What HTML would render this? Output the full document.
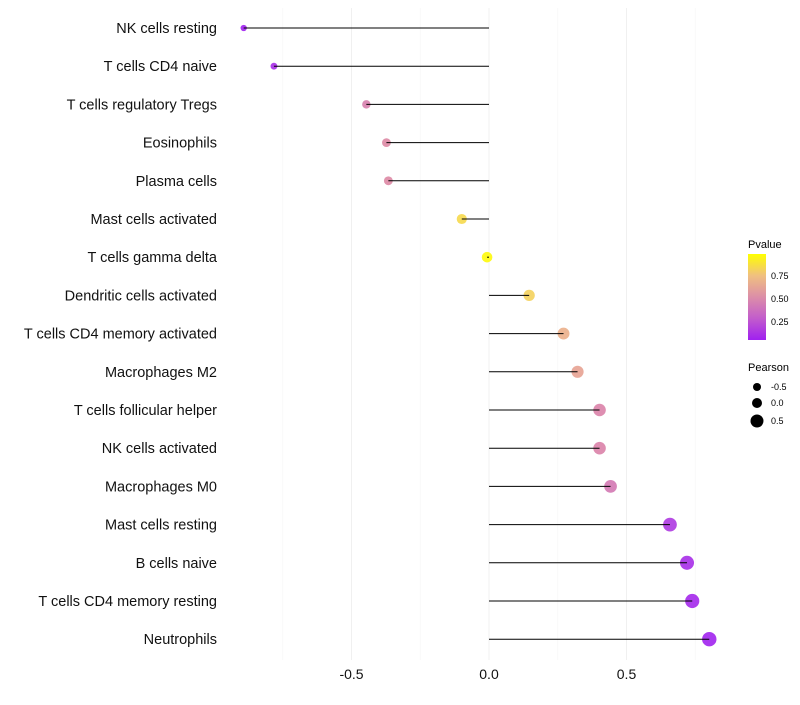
<!DOCTYPE html>
<html><head><meta charset="utf-8"><style>
body{margin:0;background:#fff;font-family:"Liberation Sans",sans-serif}
</style></head><body>
<svg id="chart" width="800" height="700" xmlns="http://www.w3.org/2000/svg" font-family="Liberation Sans, sans-serif">
<g id="grid"></g>
<g id="marks"></g>
<g id="ylabels"></g>
<g id="xlabels"></g>
<g>
<defs><linearGradient id="pg" x1="0" y1="1" x2="0" y2="0">
<stop offset="0" stop-color="#a020f0"/><stop offset="0.25" stop-color="#c25ccc"/><stop offset="0.5" stop-color="#dc8ea8"/><stop offset="0.75" stop-color="#f0c080"/><stop offset="1" stop-color="#ffff00"/></linearGradient></defs>
<text x="748" y="248" font-size="11">Pvalue</text>
<rect x="748" y="254" width="18" height="86" fill="url(#pg)"/>
<g font-size="9"><text x="771" y="279">0.75</text><text x="771" y="302">0.50</text><text x="771" y="325">0.25</text></g>
<text x="748" y="371" font-size="11">Pearson</text>
<circle cx="757" cy="387" r="4"/><circle cx="757" cy="403" r="5"/><circle cx="757" cy="421" r="6.5"/>
<g font-size="9"><text x="771" y="390">-0.5</text><text x="771" y="406">0.0</text><text x="771" y="424">0.5</text></g>
</g>
</svg>
<script>
const categories=["NK cells resting","T cells CD4 naive","T cells regulatory  Tregs ","Eosinophils","Plasma cells","Mast cells activated","T cells gamma delta","Dendritic cells activated","T cells CD4 memory activated","Macrophages M2","T cells follicular helper","NK cells activated","Macrophages M0","Mast cells resting","B cells naive","T cells CD4 memory resting","Neutrophils"];
const pearson=[-0.892,-0.782,-0.446,-0.373,-0.366,-0.099,-0.007,0.146,0.271,0.322,0.402,0.402,0.442,0.658,0.720,0.739,0.801];
const pvalue=[0.05,0.1,0.45,0.5,0.5,0.85,0.97,0.82,0.68,0.62,0.47,0.47,0.42,0.15,0.1,0.08,0.06];
const xTicks=[-0.5,0,0.5];
const xTickLabels=["-0.5","0.0","0.5"];
const NS="http://www.w3.org/2000/svg";
const x=v=>489+v*275;
const y=i=>28+i*38.2;
const rOf=v=>Math.max(1.5,5.3+2.4*v);
function lerp(a,b,t){return Math.round(a+(b-a)*t);}
const stops=[[0,[160,32,240]],[0.25,[194,92,204]],[0.5,[224,140,160]],[0.75,[240,192,128]],[1,[255,255,0]]];
function col(p){p=Math.min(1,Math.max(0,(p-0.05)/0.94));for(let k=0;k<stops.length-1;k++){const [a,ca]=stops[k],[b,cb]=stops[k+1];if(p<=b){const t=(p-a)/(b-a);return `rgb(${lerp(ca[0],cb[0],t)},${lerp(ca[1],cb[1],t)},${lerp(ca[2],cb[2],t)})`;}}return "rgb(255,255,0)";}
function mk(t,a,parent){const e=document.createElementNS(NS,t);for(const k in a)e.setAttribute(k,a[k]);parent.appendChild(e);return e;}
const grid=document.getElementById('grid'),marks=document.getElementById('marks'),yl=document.getElementById('ylabels'),xl=document.getElementById('xlabels');
[-0.75,-0.25,0.25,0.75].forEach(v=>{const g=mk('line',{x1:x(v),x2:x(v),y1:8,y2:660,stroke:'#f6f6f6','stroke-width':0.6},grid);});
xTicks.forEach((v,i)=>{const g=mk('line',{x1:x(v),x2:x(v),y1:8,y2:660,stroke:'#f0f0f0','stroke-width':1},grid);
const t=mk('text',{x:x(v),y:679,'font-size':14,'text-anchor':'middle',fill:'#111'},xl);t.textContent=xTickLabels[i];});
categories.forEach((c,i)=>{
const d=mk('circle',{cx:x(pearson[i]),cy:y(i),r:rOf(pearson[i]),fill:col(pvalue[i]),'fill-opacity':0.9},marks);


const l=mk('line',{x1:x(0),x2:x(pearson[i]),y1:y(i),y2:y(i),stroke:'#000','stroke-width':1},marks);


const t=mk('text',{x:217,y:y(i)+5,'font-size':14.5,'text-anchor':'end',fill:'#111'},yl);t.textContent=c;


});
</script>
</body></html>
